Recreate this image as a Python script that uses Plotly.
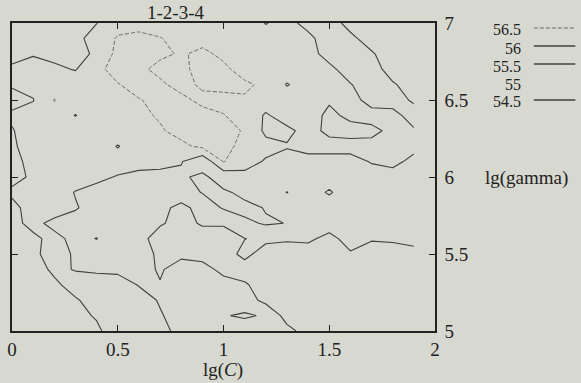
import plotly.graph_objects as go

# ---- data ----
lg_C = [0.0, 0.1, 0.2, 0.3, 0.4, 0.5, 0.6, 0.7, 0.8, 0.9,
        1.0, 1.1, 1.2, 1.3, 1.4, 1.5, 1.6, 1.7, 1.8, 1.9]
lg_gamma = [5.0, 5.1, 5.2, 5.3, 5.4, 5.5, 5.6, 5.7, 5.8, 5.9, 6.0,
            6.1, 6.2, 6.3, 6.4, 6.5, 6.6, 6.7, 6.8, 6.9, 7.0]

# accuracy[j][i] : value at lg_gamma[j], lg_C[i]
accuracy = [
    [55.6, 55.65, 55.7, 55.8, 55.9, 56.3, 56.3, 56.2, 55.8, 55.75, 55.8, 55.75, 55.7, 55.65, 55.3, 55.25, 55.2, 55.2, 55.2, 55.2],
    [55.65, 55.7, 55.75, 55.85, 56.05, 56.3, 56.3, 56.05, 55.75, 55.8, 55.97, 56.06, 55.95, 55.3, 55.2, 55.2, 55.15, 55.15, 55.15, 55.15],
    [55.7, 55.75, 55.85, 55.95, 56.2, 56.35, 56.25, 55.95, 55.8, 55.8, 55.8, 55.75, 55.35, 55.25, 55.15, 55.1, 55.1, 55.1, 55.1, 55.1],
    [55.75, 55.8, 55.9, 56.2, 56.3, 56.25, 55.97, 55.55, 55.75, 55.8, 55.7, 55.55, 55.3, 55.2, 55.1, 55.05, 55.05, 55.05, 55.05, 55.1],
    [55.72, 55.77, 56.1, 55.975, 55.9, 55.88, 55.85, 55.4, 55.9, 55.7, 55.35, 55.3, 55.2, 55.1, 55.05, 55.05, 55.05, 55.05, 55.05, 55.1],
    [55.8, 55.95, 56.1, 55.97, 55.8, 55.8, 55.85, 55.35, 55.3, 55.3, 55.3, 55.62, 55.3, 55.3, 55.25, 55.2, 55.45, 55.25, 55.2, 55.35],
    [55.85, 55.93, 56.1, 55.9, 56.01, 55.8, 55.65, 55.3, 55.3, 55.3, 55.3, 55.49, 55.6, 55.55, 55.6, 55.35, 55.7, 55.55, 55.6, 55.65],
    [55.9, 56.1, 55.9, 55.85, 55.8, 55.8, 55.75, 55.55, 55.35, 55.55, 55.55, 55.9, 56.05, 55.99, 55.55, 55.75, 55.75, 55.75, 55.75, 55.75],
    [55.9, 56.15, 56.2, 56.03, 55.85, 55.8, 55.8, 55.65, 55.35, 55.7, 56.05, 56.15, 55.97, 55.75, 55.75, 55.75, 55.75, 55.75, 55.8, 55.8],
    [56.06, 56.1, 56.2, 55.98, 55.85, 55.8, 55.8, 55.8, 55.8, 56.02, 56.1, 55.85, 55.8, 56.01, 55.8, 56.05, 55.75, 55.75, 55.8, 55.8],
    [55.9, 56.05, 56.2, 56.2, 56.1, 55.97, 55.85, 55.85, 55.9, 56.15, 55.65, 55.85, 55.95, 55.8, 55.8, 55.8, 55.8, 55.8, 55.85, 55.8],
    [55.85, 56.15, 56.25, 56.25, 56.25, 56.2, 56.2, 56.15, 56.03, 55.6, 56.52, 56.2, 55.95, 55.85, 55.85, 55.85, 55.85, 56.03, 56.1, 55.9],
    [55.9, 56.3, 56.3, 56.3, 56.3, 55.97, 56.3, 56.35, 56.4, 56.6, 56.65, 56.35, 56.15, 56.03, 56.15, 56.15, 56.15, 56.12, 56.1, 56.1],
    [55.98, 56.15, 56.3, 56.3, 56.35, 56.35, 56.4, 56.45, 56.65, 56.7, 56.7, 56.45, 55.9, 55.9, 56.15, 55.9, 55.85, 55.9, 56.1, 56.05],
    [56.05, 56.2, 56.3, 55.98, 56.3, 56.35, 56.4, 56.55, 56.7, 56.7, 56.52, 56.3, 55.95, 56.2, 56.2, 55.9, 56.1, 56.15, 56.15, 55.8],
    [55.9, 55.98, 56.52, 56.3, 56.35, 56.35, 56.48, 56.6, 56.65, 56.35, 56.35, 56.45, 56.2, 56.25, 56.2, 56.05, 56.15, 55.85, 55.8, 55.4],
    [56.03, 56.15, 56.25, 56.3, 56.35, 56.48, 56.65, 56.6, 56.3, 56.6, 56.65, 56.58, 56.4, 55.97, 56.2, 56.15, 56.02, 55.8, 55.55, 55.3],
    [56.05, 56.1, 56.1, 55.97, 56.4, 56.65, 56.62, 56.35, 56.4, 56.65, 56.6, 56.3, 56.25, 56.25, 56.2, 56.1, 55.8, 55.7, 55.3, 55.25],
    [55.9, 55.98, 55.85, 55.9, 56.05, 56.65, 56.7, 56.6, 56.45, 56.6, 56.4, 56.3, 56.25, 56.2, 56.15, 55.85, 55.75, 55.55, 55.25, 55.2],
    [55.85, 55.8, 55.8, 55.9, 56.15, 56.55, 56.65, 56.52, 56.35, 56.35, 56.3, 56.3, 56.2, 56.2, 56.12, 55.75, 55.6, 55.3, 55.2, 55.15],
    [55.8, 55.75, 55.8, 55.9, 55.99, 56.3, 56.3, 56.3, 56.25, 56.25, 56.25, 56.25, 55.98, 56.15, 55.85, 55.7, 55.35, 55.2, 55.2, 55.2],
]

levels = [56.5, 56.0, 55.5, 55.0, 54.5]
level_labels = ["56.5", "56", "55.5", "55", "54.5"]

x_tickvals = [0, 0.5, 1, 1.5, 2]
x_ticktext = ["0", "0.5", "1", "1.5", "2"]
y_tickvals = [5, 5.5, 6, 6.5, 7]
y_ticktext = ["5", "5.5", "6", "6.5", "7"]

title_text = "1-2-3-4"
x_title = "lg(<i>C</i>)"
y_title = "lg(gamma)"

# ---- styling ----
BG = "#d7d8d0"
INK = "#222222"
FONT = "Liberation Serif"
FS = 19
LEG_FS = 16

styles = {
    56.5: dict(color="#6a6a6a", width=1.0, dash="4px,2px"),
    56.0: dict(color="#404040", width=1.1, dash="solid"),
    55.5: dict(color="#404040", width=1.1, dash="solid"),
    55.0: None,                      # not visible in the original print
    54.5: dict(color="#404040", width=1.1, dash="solid"),
}

fig = go.Figure()
for lvl in levels:
    st = styles[lvl]
    if st is None:
        continue
    fig.add_trace(go.Contour(
        x=lg_C, y=lg_gamma, z=accuracy,
        autocontour=False,
        contours=dict(start=lvl, end=lvl, size=0.5, coloring="none", showlabels=False),
        line=dict(color=st["color"], width=st["width"], dash=st["dash"], smoothing=0),
        showscale=False, hoverinfo="skip", showlegend=False,
    ))

W, H = 581, 383
ml, mr, mt, mb = 7, 146, 23, 52
pw, ph = W - ml - mr, H - mt - mb


def px2paper_x(px):
    return (px - ml) / pw


def py2paper_y(py):
    return (H - mb - py) / ph


annotations = [
    dict(text=title_text, x=px2paper_x(172), y=py2paper_y(13), xref="paper", yref="paper",
         showarrow=False, xanchor="center", yanchor="middle", font=dict(family=FONT, size=FS, color=INK)),
    dict(text=x_title, x=px2paper_x(220), y=py2paper_y(370), xref="paper", yref="paper",
         showarrow=False, xanchor="center", yanchor="middle", font=dict(family=FONT, size=FS, color=INK)),
    dict(text=y_title, x=px2paper_x(484), y=py2paper_y(178), xref="paper", yref="paper",
         showarrow=False, xanchor="left", yanchor="middle", font=dict(family=FONT, size=FS, color=INK)),
]
shapes = []
legend_y = [30, 48, 66, 84, 102]
for lvl, lab, yy in zip(levels, level_labels, legend_y):
    annotations.append(dict(text=lab, x=px2paper_x(524), y=py2paper_y(yy), xref="paper", yref="paper",
                            showarrow=False, xanchor="right", yanchor="middle",
                            font=dict(family=FONT, size=LEG_FS, color=INK)))
    st = styles[lvl]
    if st is not None:
        shapes.append(dict(type="line", xref="paper", yref="paper",
                           x0=px2paper_x(535), x1=px2paper_x(577),
                           y0=py2paper_y(yy - 2), y1=py2paper_y(yy - 2),
                           line=dict(color=st["color"], width=st["width"] + 0.2, dash=st["dash"])))

axis_common = dict(showgrid=False, zeroline=False, showline=True, linecolor=INK, linewidth=1.5,
                   mirror="ticks", ticks="inside", ticklen=6, tickwidth=1.2, tickcolor=INK,
                   tickfont=dict(family=FONT, size=FS, color=INK))

fig.update_layout(
    width=W, height=H, autosize=False,
    margin=dict(l=ml, r=mr, t=mt, b=mb, pad=0),
    paper_bgcolor=BG, plot_bgcolor=BG,
    xaxis=dict(range=[0, 2], tickvals=x_tickvals, ticktext=x_ticktext, ticklabelstandoff=0, **axis_common),
    yaxis=dict(range=[5, 7], side="right", tickvals=y_tickvals, ticktext=y_ticktext, ticklabelstandoff=4,
               **axis_common),
    annotations=annotations, shapes=shapes, showlegend=False,
)

fig.write_html("out.html", config={"displayModeBar": False},
               post_script="document.body.style.margin='0px';document.body.style.background='" + BG + "';")
